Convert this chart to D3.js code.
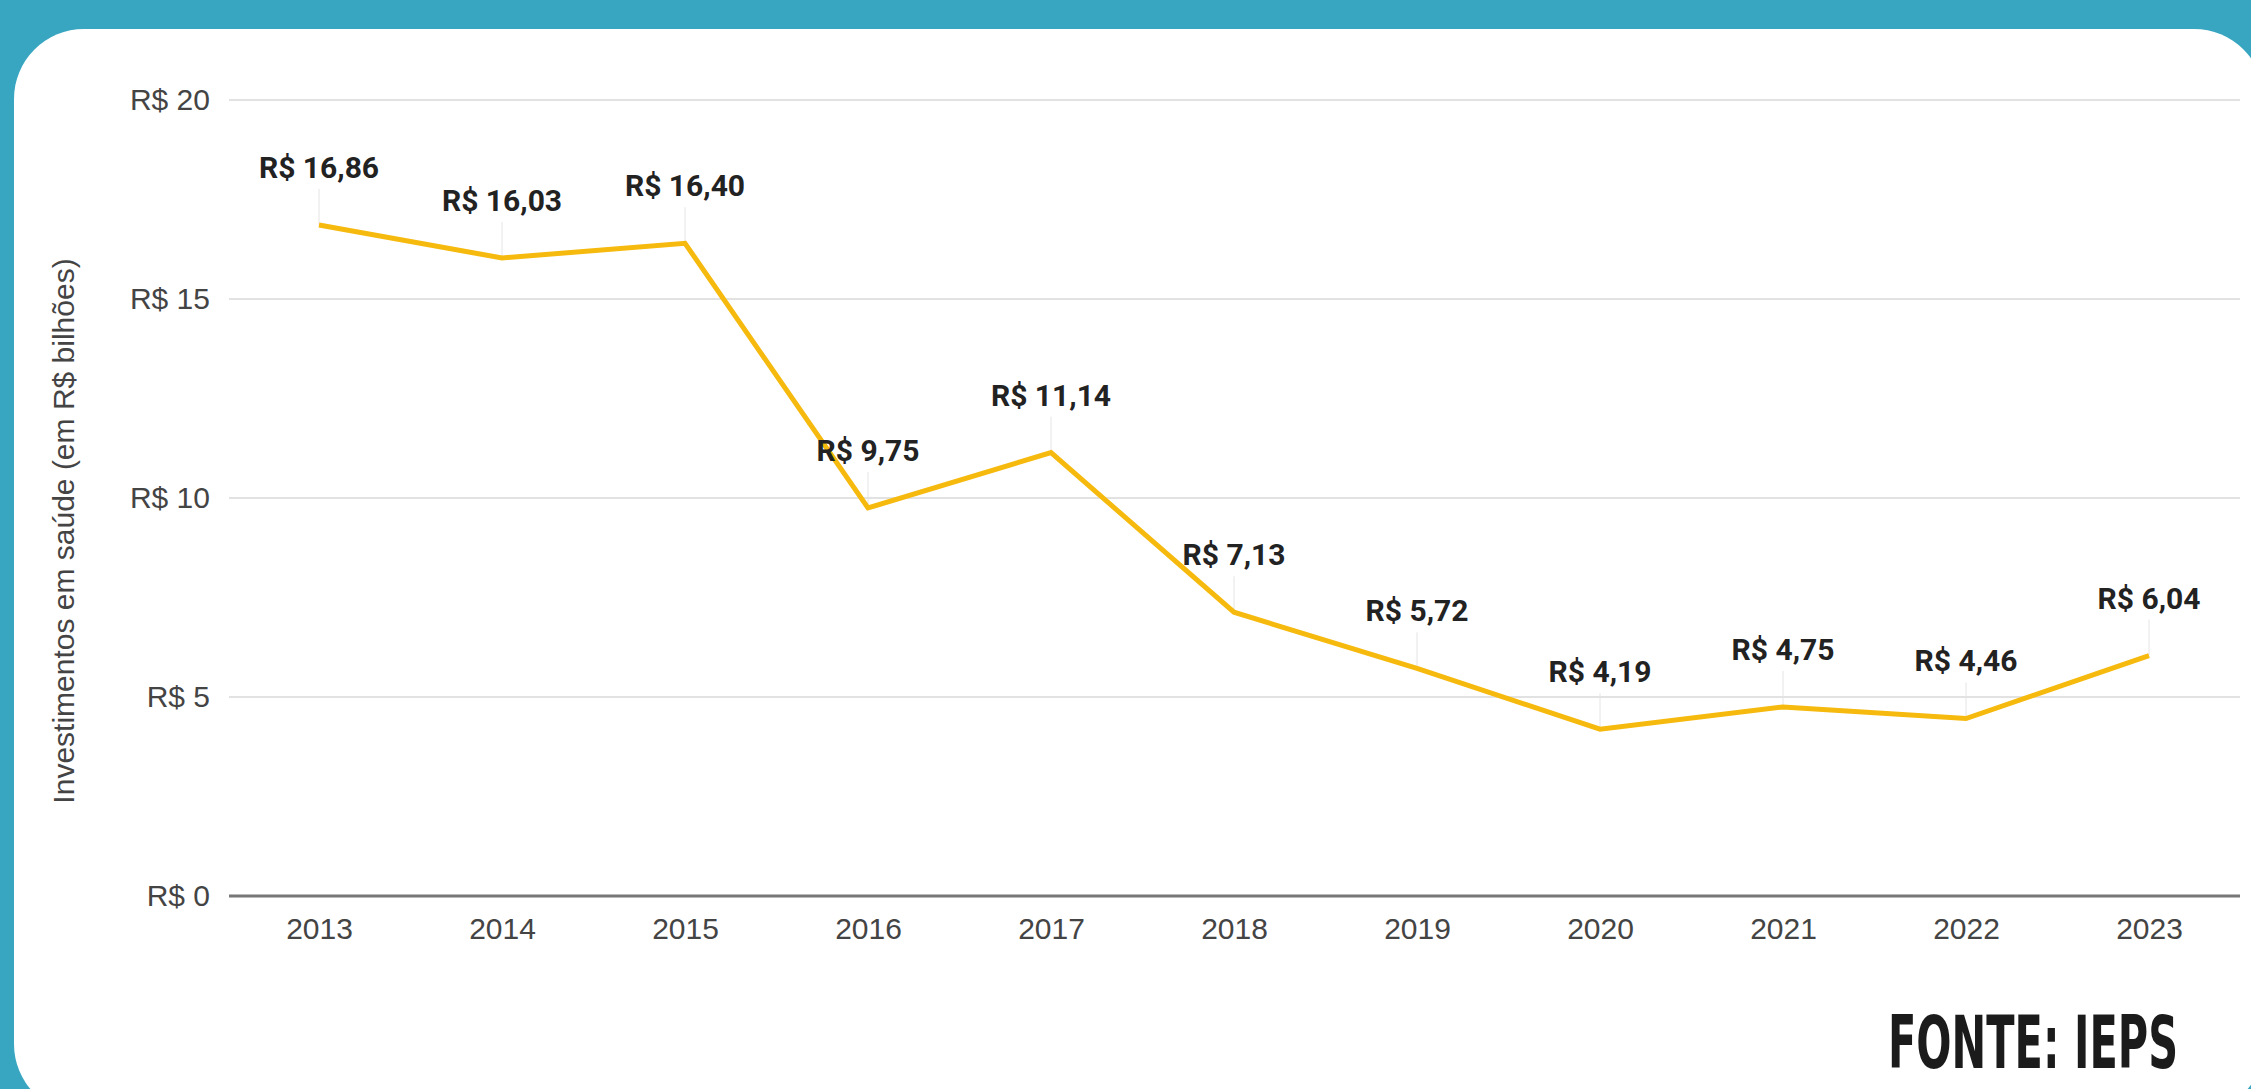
<!DOCTYPE html>
<html>
<head>
<meta charset="utf-8">
<script src="https://d3js.org/d3.v7.min.js"></script>
<style>
  html, body { margin: 0; padding: 0; background: #39a6c1; overflow: hidden; }
  svg { display: block; }
</style>
</head>
<body>
<svg id="chart" width="2251" height="1089"></svg>
<script>
// dados: investimentos em saúde (R$ bilhões)
var years = ["2013", "2014", "2015", "2016", "2017", "2018", "2019", "2020", "2021", "2022", "2023"];
var values = [16.86, 16.03, 16.40, 9.75, 11.14, 7.13, 5.72, 4.19, 4.75, 4.46, 6.04];
var labels = ["R$ 16,86", "R$ 16,03", "R$ 16,40", "R$ 9,75", "R$ 11,14", "R$ 7,13", "R$ 5,72", "R$ 4,19", "R$ 4,75", "R$ 4,46", "R$ 6,04"];
var yTicks = [0, 5, 10, 15, 20];

var svg = d3.select("#chart");

// cartão branco arredondado
svg.append("rect")
    .attr("x", 14).attr("y", 29)
    .attr("width", 2250).attr("height", 1085)
    .attr("rx", 70).attr("ry", 70)
    .attr("fill", "#fff");

var gridLeft = 229, gridRight = 2240;

var x = d3.scalePoint().domain(years).range([319, 2149]);
var y = d3.scaleLinear().domain([0, 20]).range([896, 100]);

// linhas de grade
svg.append("g").selectAll("line")
    .data(yTicks.filter(function(d) { return d > 0; }))
  .enter().append("line")
    .attr("x1", gridLeft).attr("x2", gridRight)
    .attr("y1", function(d) { return y(d); })
    .attr("y2", function(d) { return y(d); })
    .attr("stroke", "#e2e2e2")
    .attr("stroke-width", 2);

// eixo y (rótulos)
var yAxis = svg.append("g")
    .attr("transform", "translate(" + gridLeft + ",0)")
    .call(d3.axisLeft(y).tickValues(yTicks).tickSize(0).tickPadding(19)
      .tickFormat(function(d) { return "R$ " + d; }));
yAxis.select(".domain").remove();
yAxis.selectAll("text")
    .attr("font-family", "Liberation Sans, Arial, sans-serif")
    .attr("font-size", 30)
    .attr("fill", "#444");

// linha de base
svg.append("line")
    .attr("x1", gridLeft).attr("x2", gridRight)
    .attr("y1", y(0)).attr("y2", y(0))
    .attr("stroke", "#777")
    .attr("stroke-width", 3);

// eixo x
var xAxis = svg.append("g")
    .attr("transform", "translate(0," + y(0) + ")")
    .call(d3.axisBottom(x).tickSize(0).tickPadding(22));
xAxis.select(".domain").remove();
xAxis.selectAll("text")
    .attr("font-family", "Liberation Sans, Arial, sans-serif")
    .attr("font-size", 30)
    .attr("fill", "#444");

// título do eixo y
svg.append("text")
    .attr("transform", "translate(74,531) rotate(-90)")
    .attr("text-anchor", "middle")
    .attr("font-family", "Liberation Sans, Arial, sans-serif")
    .attr("font-size", 30)
    .attr("fill", "#444")
    .text("Investimentos em saúde (em R$ bilhões)");

// linhas guia dos rótulos
svg.append("g").selectAll("line")
    .data(values)
  .enter().append("line")
    .attr("x1", function(d, i) { return x(years[i]); })
    .attr("x2", function(d, i) { return x(years[i]); })
    .attr("y1", function(d) { return y(d) - 36; })
    .attr("y2", function(d) { return y(d); })
    .attr("stroke", "#e4e4e4")
    .attr("stroke-width", 1);

// série
var line = d3.line()
    .x(function(d, i) { return x(years[i]); })
    .y(function(d) { return y(d); });

svg.append("path")
    .datum(values)
    .attr("d", line)
    .attr("fill", "none")
    .attr("stroke", "#f6b90d")
    .attr("stroke-width", 5)
    .attr("stroke-linejoin", "miter");

// rótulos de valor
svg.append("g").selectAll("text")
    .data(values)
  .enter().append("text")
    .attr("x", function(d, i) { return x(years[i]); })
    .attr("y", function(d) { return y(d) - 47; })
    .attr("text-anchor", "middle")
    .attr("font-family", "Roboto, sans-serif")
    .attr("font-weight", "bold")
    .attr("font-size", 30)
    .attr("fill", "#222")
    .text(function(d, i) { return labels[i]; });

// fonte (fonte estreita, esticada na vertical)
svg.append("text")
    .attr("transform", "translate(1888,1068) scale(1,1.6)")
    .attr("font-family", "DejaVu Sans Condensed, Liberation Sans Narrow, sans-serif")
    .attr("font-weight", "bold")
    .attr("font-size", 46)
    .attr("textLength", 290)
    .attr("lengthAdjust", "spacingAndGlyphs")
    .attr("fill", "#1b1b1b")
    .text("FONTE: IEPS");
</script>
</body>
</html>
